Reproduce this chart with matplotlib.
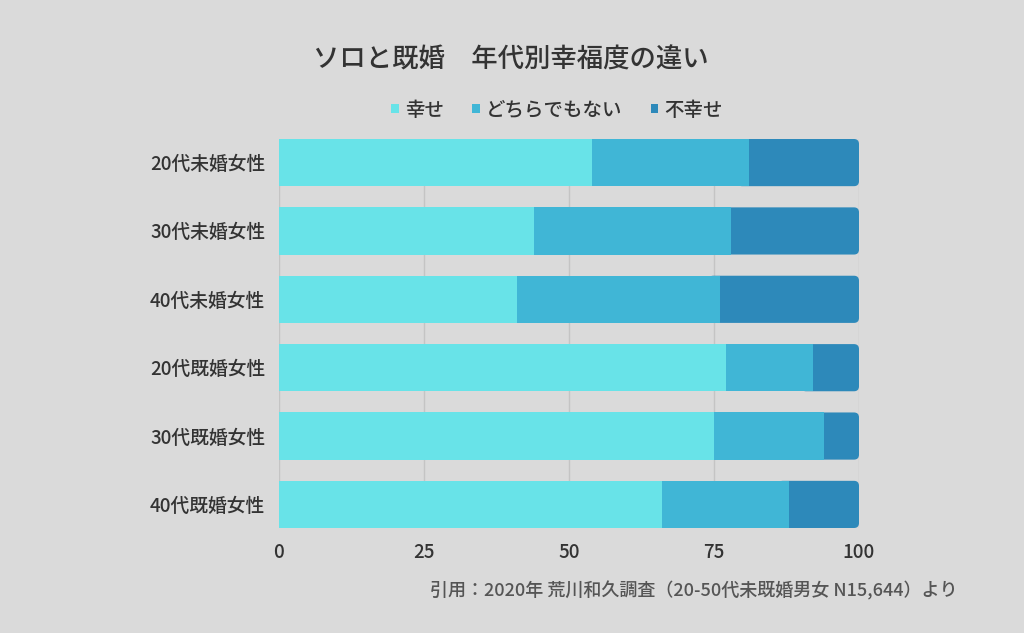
import matplotlib
matplotlib.use("Agg")
import matplotlib.pyplot as plt
from matplotlib.patches import FancyBboxPatch, Patch

plt.rcParams['font.family'] = ['Noto Sans CJK JP', 'DejaVu Sans']
plt.rcParams['font.weight'] = 'medium'

categories = ['20代未婚女性', '30代未婚女性', '40代未婚女性', '20代既婚女性', '30代既婚女性', '40代既婚女性']
happy = [54, 44, 41, 77, 75, 66]
neutral = [27, 34, 35, 15, 19, 22]
unhappy = [19, 22, 24, 8, 6, 12]
series_names = ['幸せ', 'どちらでもない', '不幸せ']
xticks = [0, 25, 50, 75, 100]
title = 'ソロと既婚　年代別幸福度の違い'
source = '引用：2020年 荒川和久調査（20-50代未既婚男女 N15,644）より'

bg = '#DADADA'
colors = ['#68E3E8', '#40B6D6', '#2D89BA']
txt = '#333333'

fig = plt.figure(figsize=(10.24, 6.33), dpi=100, facecolor=bg)
ax = fig.add_axes([279/1024, 1-528/633, 580/1024, 389/633])
ax.set_facecolor(bg)

h = 0.69
ypos = list(range(len(categories)))
ax.set_xlim(0, 100)
ax.set_ylim(len(categories) - 1 + h/2, -h/2)

# px per data unit
px_x = 580/100
px_y = 389/(len(categories) - 1 + h)
r_px = 5
for i, (a, b, c) in enumerate(zip(happy, neutral, unhappy)):
    left = a + b
    patch = FancyBboxPatch((left - 2, i - h/2), c + 2, h,
                           boxstyle=f"round,pad=0,rounding_size={r_px/px_x}",
                           mutation_aspect=px_x/px_y,
                           facecolor=colors[2], edgecolor='none', zorder=2)
    ax.add_patch(patch)

ax.barh(ypos, happy, height=h, color=colors[0], zorder=3)
ax.barh(ypos, neutral, left=happy, height=h, color=colors[1], zorder=3)

ax.set_xticks(xticks)
ax.set_xticklabels([str(t) for t in xticks])
ax.set_yticks(ypos)
ax.set_yticklabels(categories)
ax.tick_params(axis='both', length=0, colors=txt, labelsize=13.5)
ax.tick_params(axis='x', pad=11)
ax.tick_params(axis='y', pad=10)
ax.grid(axis='x', color='#C4C4C4', linewidth=1, zorder=0)
ax.set_axisbelow(True)
for s in ax.spines.values():
    s.set_visible(False)

fig.text(511/1024, 1-60/633, title, ha='center', va='center', fontsize=19, color=txt)

handles = [Patch(facecolor=col, edgecolor='none') for col in colors]
leg = fig.legend(handles, series_names, loc='center', bbox_to_anchor=(557/1024, 1-110/633),
                 ncol=3, frameon=False, fontsize=14, handlelength=0.4, handleheight=0.4,
                 handletextpad=0.3, columnspacing=1.45, labelcolor=txt)

fig.text(958/1024, 1-591/633, source, ha='right', va='center', fontsize=13, color='#555555')

fig.savefig('out.png', dpi=100, facecolor=bg)
